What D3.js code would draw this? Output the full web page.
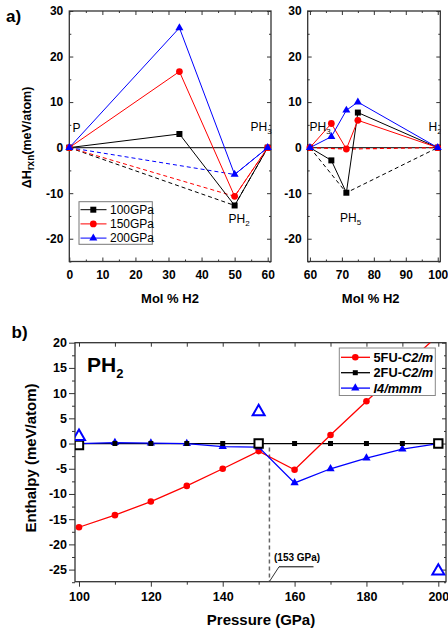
<!DOCTYPE html>
<html><head><meta charset="utf-8">
<script src="https://cdn.jsdelivr.net/npm/d3@7"></script>
<style>
body{margin:0;background:#fff;}
text{font-family:"Liberation Sans",Arial,sans-serif;}
</style></head>
<body>
<script>
// ---------- data ----------
const seriesNames = ["100GPa","150GPa","200GPa"];
const seriesColors = ["#000000","#ff0000","#0000ff"];
const seriesShapes = ["square","circle","triangle"];

const leftX = [0, 33.3, 50, 60];
const left100 = [0, 3.0, -12.7, 0];
const left150 = [0, 16.7, -10.7, 0];
const left200 = [0, 26.3, -5.9, 0];
const leftHullX = [0, 50, 60];
const leftHull100 = [0, -12.7, 0];
const leftHull150 = [0, -10.7, 0];
const leftHull200 = [0, -5.9, 0];

const rightX = [60, 66.7, 71.4, 75, 100];
const right100 = [0, -2.8, -9.9, 7.7, 0];
const right150 = [0, 5.3, -0.3, 6.0, 0];
const right200 = [0, 2.4, 8.2, 10.0, 0];
const rightHullX = [60, 71.4, 100];
const rightHull100 = [0, -9.9, 0];
const rightHull150 = [0, -0.3, 0];

const leftTicksX = [0,10,20,30,40,50,60];
const rightTicksX = [60,70,80,90,100];
const topTicksY = [-20,-10,0,10,20,30];

const pressure = [100,110,120,130,140,150,160,170,180,190,200];
const fu5 = [-16.6,-14.2,-11.5,-8.4,-5.0,-1.5,-5.2,1.7,8.4,15.0,21.5];
const fu2 = [0,0,0,0,0,0,0,0,0,0,0];
const i4mmm = [0,0.2,0.1,0,-0.6,-0.7,-7.8,-5.0,-2.9,-1.1,0];
const bigSqP = [100,150,200];
const bigSqH = [-0.3,0,0];
const bigTriP = [100,150,200];
const bigTriH = [1.4,6.3,-25.3];
const crossP = 153;
const crossH = -0.8;
const bottomTicksX = [100,120,140,160,180,200];
const bottomTicksY = [-25,-20,-15,-10,-5,0,5,10,15,20];
const bNames = ["5FU-","2FU-",""];
const bItal = ["C2/m","C2/m","I4/mmm"];
const bColors = ["#ff0000","#000000","#0000ff"];
const bShapes = ["circle","square","triangle"];

// ---------- helpers ----------
const svg = d3.select("body").append("svg").attr("width",448).attr("height",629);
const FONT = '"Liberation Sans",Arial,sans-serif';
const symType = {square:d3.symbolSquare,circle:d3.symbolCircle,triangle:d3.symbolTriangle};
function sym(shape, area){ return d3.symbol().type(symType[shape]).size(area)(); }
function range(a,b,s){const r=[];for(let v=a;v<=b+1e-9;v+=s)r.push(+v.toFixed(4));return r;}
const fmt = d => String(d);

function frame(g, x, y, o){
  const [x0,x1]=x.range(), [y0,y1]=y.range(); // y0 bottom
  const ax = (gen, tr) => { const a=g.append("g").attr("transform",tr).call(gen); a.select(".domain").remove(); a.selectAll("line").attr("stroke","#333").attr("stroke-width",1); a.selectAll("text").attr("font-family",FONT).attr("font-weight","bold").attr("font-size",o.fs).attr("fill","#000"); return a;};
  ax(d3.axisBottom(x).tickValues(o.xMaj).tickSizeInner(o.bIn).tickSizeOuter(0).tickPadding(o.bPad).tickFormat(fmt), `translate(0,${y0})`);
  ax(d3.axisBottom(x).tickValues(o.xMin).tickSizeInner(o.bInMin).tickSizeOuter(0).tickFormat(""), `translate(0,${y0})`);
  ax(d3.axisLeft(y).tickValues(o.yMaj).tickSizeInner(o.lIn).tickSizeOuter(0).tickPadding(o.lPad).tickFormat(fmt), `translate(${x0},0)`);
  ax(d3.axisLeft(y).tickValues(o.yMin).tickSizeInner(o.lInMin).tickSizeOuter(0).tickFormat(""), `translate(${x0},0)`);
  ax(d3.axisTop(x).tickValues(o.tMaj).tickSizeInner(-4).tickSizeOuter(0).tickFormat(""), `translate(0,${y1})`);
  ax(d3.axisTop(x).tickValues(o.tMin).tickSizeInner(-2).tickSizeOuter(0).tickFormat(""), `translate(0,${y1})`);
  ax(d3.axisRight(y).tickValues(o.yMaj).tickSizeInner(-4).tickSizeOuter(0).tickFormat(""), `translate(${x1},0)`);
  ax(d3.axisRight(y).tickValues(o.yMin).tickSizeInner(-2).tickSizeOuter(0).tickFormat(""), `translate(${x1},0)`);
  g.append("rect").attr("x",x0).attr("y",y1).attr("width",x1-x0).attr("height",y0-y1)
    .attr("fill","none").attr("stroke","#333").attr("stroke-width",1.3);
}

function subText(g, x, y, main, sub, fs, subfs, opts={}){
  const t=g.append("text").attr("x",x).attr("y",y).attr("font-size",fs).attr("fill","#000")
    .attr("font-weight",opts.bold?"bold":"normal");
  t.append("tspan").text(main);
  if(sub) t.append("tspan").attr("font-size",subfs).attr("dy",opts.dy||3).text(sub);
  return t;
}

// ---------- panel a: scales ----------
const xL = d3.scaleLinear().domain([0,61]).range([69.3,271]);
const xR = d3.scaleLinear().domain([59.3,100.8]).range([307.7,440.3]);
const yT = d3.scaleLinear().domain([-25,30]).range([261.5,11]);

const topOpts = (majX, minX) => ({fs:12, xMaj:majX, xMin:minX, bIn:-4, bInMin:-2, bPad:9,
  yMaj:topTicksY, yMin:range(-25,25,5).filter(v=>v%10!==0), lIn:-4, lInMin:-2, lPad:6,
  tMaj:majX, tMin:minX});

const gL = svg.append("g"), gR = svg.append("g");
frame(gL, xL, yT, topOpts(leftTicksX, [5,15,25,35,45,55]));
frame(gR, xR, yT, topOpts(rightTicksX, [65,75,85,95]));

const defs = svg.append("defs");
defs.append("clipPath").attr("id","clipR").append("rect").attr("x",307.7).attr("y",11).attr("width",132.6).attr("height",250.5);
defs.append("clipPath").attr("id","clipB").append("rect").attr("x",75).attr("y",342.7).attr("width",371).attr("height",239);

// zero lines
[[gL,xL],[gR,xR]].forEach(([g,x])=>{
  g.append("line").attr("x1",x.range()[0]).attr("x2",x.range()[1]).attr("y1",yT(0)).attr("y2",yT(0))
   .attr("stroke","#333").attr("stroke-width",1.3);
});

function drawSeries(g, x, y, xs, ys, color, shape, area, opts={}){
  const line=d3.line().x((d,i)=>x(xs[i])).y(d=>y(d));
  g.append("path").attr("d",line(ys)).attr("fill","none").attr("stroke",color)
   .attr("stroke-width",opts.sw||1).attr("stroke-dasharray",opts.dash||null);
  if(shape){
    g.selectAll(null).data(ys).enter().append("path")
     .attr("transform",(d,i)=>`translate(${x(xs[i])},${y(d)})`)
     .attr("d",sym(shape,area)).attr("fill",color);
  }
}

// hull dashed lines
const lh=[leftHull100,leftHull150,leftHull200];
lh.forEach((h,i)=>drawSeries(gL,xL,yT,leftHullX,h,seriesColors[i],null,0,{dash:"4,3"}));
drawSeries(gR,xR,yT,rightHullX,rightHull100,seriesColors[0],null,0,{dash:"4,3"});
drawSeries(gR,xR,yT,rightHullX,rightHull150,seriesColors[1],null,0,{dash:"4,3",sw:1.2});

const areas={square:36,circle:36,triangle:28};
[left100,left150,left200].forEach((s,i)=>drawSeries(gL,xL,yT,leftX,s,seriesColors[i],seriesShapes[i],areas[seriesShapes[i]]));
[right100,right150,right200].forEach((s,i)=>drawSeries(gR,xR,yT,rightX,s,seriesColors[i],seriesShapes[i],areas[seriesShapes[i]]));

// labels panel a
const la=svg.append("g").attr("font-family",FONT);
la.append("text").attr("x",72.5).attr("y",131.5).attr("font-size",12).text("P");
subText(la,250.5,130.5,"PH","3",12,8);
subText(la,228.5,222.5,"PH","2",12,8);
const laR=svg.append("g").attr("font-family",FONT).attr("clip-path","url(#clipR)");
subText(laR,309.5,130.5,"PH","3",12,8);
subText(laR,428.5,130.5,"H","2",12,8);
subText(laR,340,221.5,"PH","5",12,8);

// legend a
const lgA=svg.append("g").attr("font-family",FONT);
lgA.append("rect").attr("x",79).attr("y",201.7).attr("width",73.3).attr("height",42.6).attr("fill","#fff").attr("stroke","#777").attr("stroke-width",1);
const lgAy=[209.7,223.9,238.1];
seriesNames.forEach((n,i)=>{
  lgA.append("line").attr("x1",80.5).attr("x2",106.5).attr("y1",lgAy[i]).attr("y2",lgAy[i]).attr("stroke",seriesColors[i]).attr("stroke-width",1);
  lgA.append("path").attr("transform",`translate(93.3,${lgAy[i]})`).attr("d",sym(seriesShapes[i],areas[seriesShapes[i]])).attr("fill",seriesColors[i]);
  lgA.append("text").attr("x",110).attr("y",lgAy[i]+4.3).attr("font-size",12).text(n);
});

// axis titles a
const ttl=svg.append("g").attr("font-family",FONT).attr("font-weight","bold");
const yl=ttl.append("text").attr("transform","translate(31,137.5) rotate(-90)").attr("text-anchor","middle").attr("font-size",12.5);
yl.append("tspan").text("ΔH");
yl.append("tspan").attr("font-size",10).attr("dy",3).text("rxn");
yl.append("tspan").attr("dy",-3).text("(meV/atom)");
ttl.append("text").attr("x",170).attr("y",303).attr("text-anchor","middle").attr("font-size",13).text("Mol % H2");
ttl.append("text").attr("x",370.7).attr("y",303).attr("text-anchor","middle").attr("font-size",13).text("Mol % H2");
ttl.append("text").attr("x",6).attr("y",22).attr("font-size",17).text("a)");
ttl.append("text").attr("x",11.5).attr("y",338).attr("font-size",17).text("b)");

// ---------- panel b ----------
const xB = d3.scaleLinear().domain([98.89,202.14]).range([75,446]);
const yB = d3.scaleLinear().domain([-27.4,20]).range([581.7,342.7]);
const gB = svg.append("g");
frame(gB, xB, yB, {fs:12.5, xMaj:bottomTicksX, xMin:[110,130,150,170,190], bIn:5, bInMin:3, bPad:5,
  yMaj:bottomTicksY, yMin:range(-27.5,17.5,5), lIn:6, lInMin:3, lPad:2,
  tMaj:range(100,200,10), tMin:[]});

const gBd = gB.append("g").attr("clip-path","url(#clipB)");
drawSeries(gBd,xB,yB,pressure,fu2,"#000",null,0,{sw:1.3});
gBd.append("line").attr("x1",xB(crossP)).attr("x2",xB(crossP)).attr("y1",yB(crossH)).attr("y2",yB(-27.4))
  .attr("stroke","#666").attr("stroke-width",1.5).attr("stroke-dasharray","4,3");
drawSeries(gBd,xB,yB,pressure,fu5,"#ff0000","circle",34,{sw:1.3});
drawSeries(gBd,xB,yB,pressure,i4mmm,"#0000ff","triangle",30,{sw:1.3});
gBd.selectAll(null).data(fu2).enter().append("path")
  .attr("transform",(d,i)=>`translate(${xB(pressure[i])},${yB(d)})`).attr("d",sym("square",25)).attr("fill","#000");
gBd.selectAll(null).data(bigSqH).enter().append("path")
  .attr("transform",(d,i)=>`translate(${xB(bigSqP[i])},${yB(d)})`).attr("d",sym("square",70))
  .attr("fill","#fff").attr("stroke","#000").attr("stroke-width",2);
gBd.selectAll(null).data(bigTriH).enter().append("path")
  .attr("transform",(d,i)=>`translate(${xB(bigTriP[i])},${yB(d)})`).attr("d",sym("triangle",62))
  .attr("fill","none").attr("stroke","#0000ff").attr("stroke-width",2);

// annotation
const an=svg.append("g").attr("font-family",FONT);
an.append("text").attr("x",274).attr("y",561).attr("font-size",10).attr("font-weight","bold").text("(153 GPa)");
an.append("line").attr("x1",279).attr("x2",313.5).attr("y1",566.8).attr("y2",566.8).attr("stroke","#000").attr("stroke-width",1);
an.append("line").attr("x1",xB(crossP)).attr("x2",279).attr("y1",581.5).attr("y2",566.8).attr("stroke","#000").attr("stroke-width",0.8);

const ph=an.append("text").attr("x",87).attr("y",371.5).attr("font-weight","bold").attr("font-size",21);
ph.append("tspan").text("PH");
ph.append("tspan").attr("font-size",13).attr("dy",6).text("2");

// legend b
const lgB=svg.append("g").attr("font-family",FONT);
lgB.append("rect").attr("x",339.3).attr("y",348).attr("width",96).attr("height",47.5).attr("fill","#fff").attr("stroke","#888").attr("stroke-width",1);
const lgBy=[357.3,372.7,388.1];
bNames.forEach((n,i)=>{
  lgB.append("line").attr("x1",341).attr("x2",370).attr("y1",lgBy[i]).attr("y2",lgBy[i]).attr("stroke",bColors[i]).attr("stroke-width",1.3);
  lgB.append("path").attr("transform",`translate(355.3,${lgBy[i]})`).attr("d",sym(bShapes[i],bShapes[i]==="square"?25:bShapes[i]==="circle"?34:30)).attr("fill",bColors[i]);
  const t=lgB.append("text").attr("x",373.5).attr("y",lgBy[i]+4.6).attr("font-size",12.8).attr("font-weight","bold");
  if(n) t.append("tspan").text(n);
  t.append("tspan").attr("font-style","italic").text(bItal[i]);
});

// axis titles b
const ttlB=svg.append("g").attr("font-family",FONT).attr("font-weight","bold");
ttlB.append("text").attr("transform","translate(35.5,458) rotate(-90)").attr("text-anchor","middle").attr("font-size",15).text("Enthalpy (meV/atom)");
ttlB.append("text").attr("x",261).attr("y",625).attr("text-anchor","middle").attr("font-size",15).text("Pressure (GPa)");
</script>
</body></html>
